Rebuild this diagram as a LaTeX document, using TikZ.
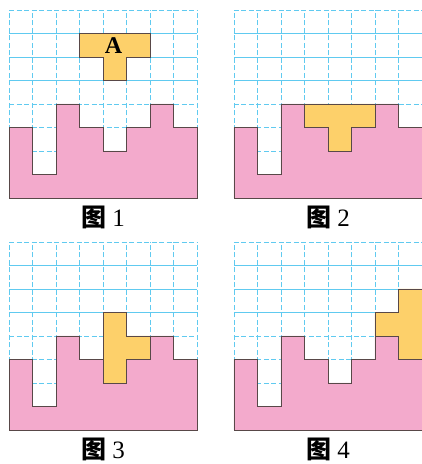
\documentclass[tikz,border=0pt]{standalone}
\usepackage{fontspec}
\setmainfont{Liberation Serif}
\newfontfamily\cjk{Noto Sans CJK SC}
\usetikzlibrary{positioning}
\definecolor{gridblue}{RGB}{96,202,240}
\definecolor{tilepink}{RGB}{243,170,204}
\definecolor{tileyellow}{RGB}{253,208,106}
\definecolor{edgegray}{RGB}{88,72,72}
\newcommand{\basegrid}{%
  \foreach \i in {0,...,8} \draw[dline] (\i,0) -- (\i,8);
  \foreach \j in {1,2,3,4,8} \draw[dline] (0,\j) -- (8,\j);
  \foreach \j in {5,6,7} \draw[sline] (0,\j) -- (8,\j);
  \draw[pinkpart] (0,0) -- (0,3) -- (1,3) -- (1,1) -- (2,1) -- (2,4) -- (3,4)
    -- (3,3) -- (4,3) -- (4,2) -- (5,2) -- (5,3) -- (6,3) -- (6,4) -- (7,4)
    -- (7,3) -- (8,3) -- (8,0) -- cycle;
}

\begin{document}
\begin{tikzpicture}[x=23.5pt, y=23.5pt,
  dline/.style={gridblue, line width=0.7pt, dash pattern=on 5pt off 2.5pt},
  sline/.style={gridblue, line width=0.7pt},
  pinkpart/.style={draw=edgegray, fill=tilepink, line width=0.7pt, line join=miter},
  tpiece/.style={draw=edgegray, fill=tileyellow, line width=0.7pt, line join=miter},
  figcap/.style={font=\fontsize{25}{26}\selectfont},
  lab/.style={font=\fontsize{24}{24}\selectfont\bfseries}
]
  \useasboundingbox (0,0) rectangle (17.957,19.745);

  % figure 1
  \begin{scope}[shift={(0.383,11.32)}]
    \basegrid
    \draw[tpiece] (3,6) -- (3,7) -- (6,7) -- (6,6) -- (5,6) -- (5,5) -- (4,5)
      -- (4,6) -- cycle;
    \node[lab] (tileA) at (4.45,6.5) {A};
    \node[figcap] (cap1) at (4,-0.81) {{\cjk\bfseries 图} 1};
  \end{scope}

  % figure 2
  \begin{scope}[shift={(9.957,11.32)}]
    \basegrid
    \draw[tpiece] (3,4) -- (6,4) -- (6,3) -- (5,3) -- (5,2) -- (4,2) -- (4,3)
      -- (3,3) -- cycle;
    \node[figcap] (cap2) at (4,-0.81) {{\cjk\bfseries 图} 2};
  \end{scope}

  % figure 3
  \begin{scope}[shift={(0.383,1.447)}]
    \basegrid
    \draw[tpiece] (4,2) -- (4,5) -- (5,5) -- (5,4) -- (6,4) -- (6,3) -- (5,3)
      -- (5,2) -- cycle;
    \node[figcap] (cap3) at (4,-0.81) {{\cjk\bfseries 图} 3};
  \end{scope}

  % figure 4
  \begin{scope}[shift={(9.957,1.447)}]
    \basegrid
    \draw[tpiece] (8,3) -- (8,6) -- (7,6) -- (7,5) -- (6,5) -- (6,4) -- (7,4)
      -- (7,3) -- cycle;
    \node[figcap] (cap4) at (4,-0.81) {{\cjk\bfseries 图} 4};
  \end{scope}
\end{tikzpicture}
\end{document}
